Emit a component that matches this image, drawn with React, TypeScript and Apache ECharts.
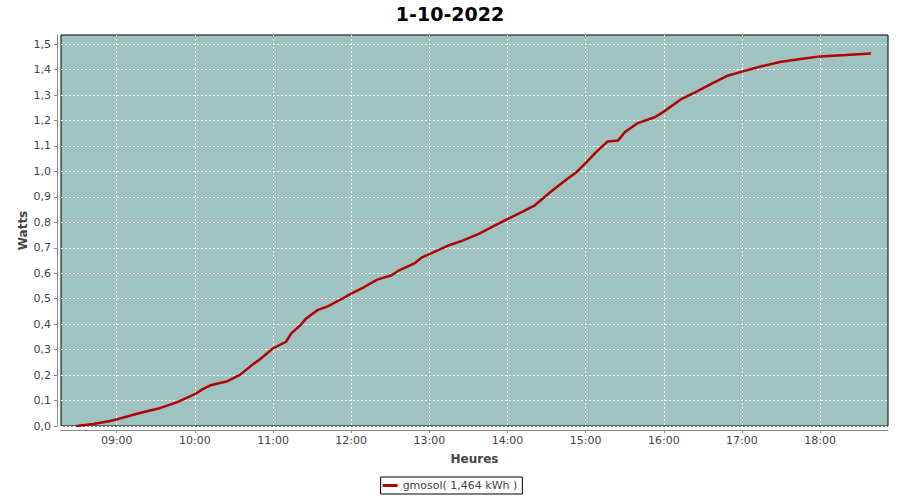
import { useEffect, useRef } from 'react';
import * as echarts from 'echarts';

const times: string[] = [
  '08:29', '08:42', '08:55', '09:00', '09:10', '09:20', '09:33', '09:46', '10:00', '10:06',
  '10:12', '10:25', '10:35', '10:45', '10:50', '11:00', '11:10', '11:14', '11:21', '11:25',
  '11:34', '11:42', '11:52', '12:00', '12:10', '12:20', '12:31', '12:36', '12:49', '12:54',
  '13:00', '13:14', '13:25', '13:38', '13:50', '14:00', '14:12', '14:21', '14:33', '14:46',
  '14:53', '15:00', '15:08', '15:17', '15:25', '15:30', '15:40', '15:53', '16:00', '16:13',
  '16:24', '16:38', '16:49', '17:00', '17:15', '17:30', '17:45', '18:00', '18:20', '18:39',
];
const watts: number[] = [
  0.000, 0.008, 0.020, 0.026, 0.040, 0.054, 0.070, 0.093, 0.125, 0.145,
  0.160, 0.176, 0.202, 0.244, 0.262, 0.305, 0.331, 0.364, 0.396, 0.420,
  0.455, 0.470, 0.497, 0.520, 0.546, 0.575, 0.592, 0.609, 0.640, 0.661,
  0.675, 0.708, 0.727, 0.755, 0.787, 0.813, 0.843, 0.867, 0.919, 0.971,
  0.997, 1.033, 1.076, 1.118, 1.122, 1.154, 1.190, 1.213, 1.235, 1.283,
  1.311, 1.348, 1.376, 1.392, 1.413, 1.431, 1.442, 1.452, 1.457, 1.463,
];
const xTickHours: number[] = [9, 10, 11, 12, 13, 14, 15, 16, 17, 18];
const yTickValues: number[] = [0, 0.1, 0.2, 0.3, 0.4, 0.5, 0.6, 0.7, 0.8, 0.9, 1.0, 1.1, 1.2, 1.3, 1.4, 1.5];
const seriesName = 'gmosol( 1,464 kWh )';
const chartTitle = '1-10-2022';

const toHours = (t: string) => {
  const [h, m] = t.split(':').map(Number);
  return h + m / 60;
};

const FONT = 'DejaVu Sans';

export default function App() {
  const ref = useRef<HTMLDivElement>(null);
  useEffect(() => {
    if (!ref.current) return;
    const chart = echarts.init(ref.current, undefined, { renderer: 'svg' });
    const data = times.map((t, i) => [toHours(t), watts[i]]);
    chart.setOption({
      animation: false,
      backgroundColor: '#ffffff',
      title: {
        text: chartTitle,
        left: 'center',
        top: -1,
        textStyle: { fontFamily: FONT, fontSize: 19, fontWeight: 'bold', color: '#000' },
      },
      legend: {
        data: [seriesName],
        left: 'center',
        top: 477,
        icon: 'rect',
        itemWidth: 15,
        itemHeight: 3,
        itemGap: 5,
        padding: [3, 5, 3, 2],
        borderColor: '#000',
        borderWidth: 1,
        textStyle: { fontFamily: FONT, fontSize: 11, color: '#444' },
      },
      grid: {
        left: 61,
        right: 12,
        top: 35,
        bottom: 74,
        show: true,
        backgroundColor: '#9fc3c1',
        borderColor: '#000',
        borderWidth: 1,
      },
      xAxis: {
        type: 'value',
        min: 8.287,
        max: 18.869,
        offset: 4,
        name: 'Heures',
        nameLocation: 'middle',
        nameGap: 23,
        nameMoveOverlap: false,
        nameTextStyle: { fontFamily: FONT, fontSize: 12, fontWeight: 'bold', color: '#444' },
        axisLine: { show: true, onZero: false, lineStyle: { color: '#888', width: 1 } },
        axisTick: { show: true, length: 3, customValues: xTickHours, lineStyle: { color: '#888' } },
        axisLabel: {
          customValues: xTickHours,
          margin: 5,
          fontFamily: FONT,
          fontSize: 11,
          color: '#444',
          formatter: (v: number) => `${String(Math.round(v)).padStart(2, '0')}:00`,
        },
        splitLine: { show: true, lineStyle: { color: '#ffffff', type: [2, 2], width: 1 } },
      },
      yAxis: {
        type: 'value',
        min: 0,
        max: 1.536,
        interval: 0.1,
        offset: 4,
        name: 'Watts',
        nameLocation: 'middle',
        nameGap: 28,
        nameMoveOverlap: false,
        nameTextStyle: { fontFamily: FONT, fontSize: 12, fontWeight: 'bold', color: '#444' },
        axisLine: { show: true, lineStyle: { color: '#888', width: 1 } },
        axisTick: { show: true, length: 3, customValues: yTickValues, lineStyle: { color: '#888' } },
        axisLabel: {
          customValues: yTickValues,
          margin: 6,
          fontFamily: FONT,
          fontSize: 11,
          color: '#444',
          formatter: (v: number) => v.toFixed(1).replace('.', ','),
        },
        splitLine: { show: true, lineStyle: { color: '#ffffff', type: [2, 2], width: 1 } },
      },
      series: [
        {
          name: seriesName,
          type: 'line',
          data,
          showSymbol: false,
          symbol: 'none',
          smooth: false,
          lineStyle: { color: '#b30000', width: 2.5 },
          itemStyle: { color: '#b30000' },
        },
      ],
    });
    return () => chart.dispose();
  }, []);
  return <div ref={ref} style={{ position: 'fixed', left: 0, top: 0, width: 900, height: 500 }} />;
}
